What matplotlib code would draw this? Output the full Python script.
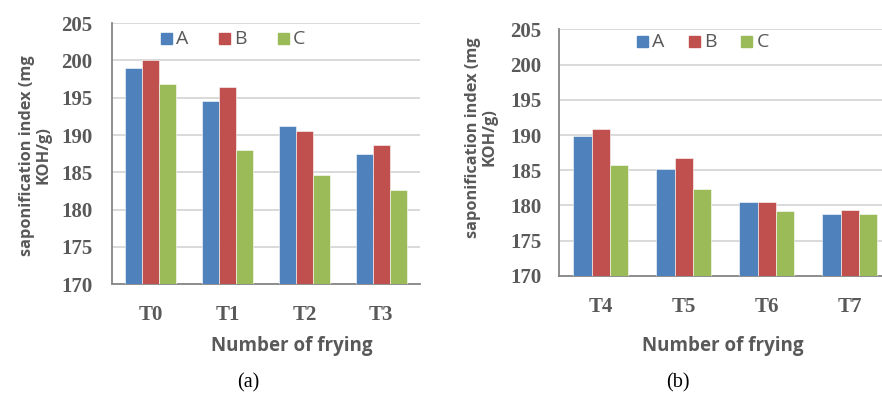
import numpy as np
import matplotlib.pyplot as plt

# saponification index per frying stage, three samples
groups_a = ["T0", "T1", "T2", "T3"]
a_A = [199.0, 194.5, 191.2, 187.5]
a_B = [200.0, 196.4, 190.5, 188.7]
a_C = [196.8, 188.0, 184.6, 182.6]

groups_b = ["T4", "T5", "T6", "T7"]
b_A = [189.9, 185.2, 180.5, 178.8]
b_B = [190.8, 186.7, 180.5, 179.4]
b_C = [185.7, 182.3, 179.2, 178.8]

series_names = ["A", "B", "C"]
colors = ["#4F81BD", "#C0504D", "#9BBB59"]
yticks = [170, 175, 180, 185, 190, 195, 200, 205]

gray = "#595959"
serif = "Liberation Serif"
sans = "Open Sans"

fig = plt.figure(figsize=(8.82, 3.93), dpi=100)
ax_a = fig.add_axes([0.127, 0.277, 0.349, 0.664])
ax_b = fig.add_axes([0.634, 0.298, 0.366, 0.627])


def draw(ax, cats, vals, xlim, xlab, ylab, leg, ypad):
    x = np.arange(len(cats))
    w = 0.22
    for i, (v, c) in enumerate(zip(vals, colors)):
        ax.bar(x + (i - 1) * w, np.array(v) - 170, w, bottom=170, color=c,
               edgecolor="white", linewidth=0.4, zorder=3)
    ax.set_ylim(170, 205)
    ax.set_xlim(*xlim)
    ax.set_yticks(yticks)
    ax.set_yticklabels([str(t) for t in yticks], fontfamily=serif,
                       fontweight="bold", fontsize=15, color=gray)
    ax.set_xticks(x)
    ax.set_xticklabels(cats, fontfamily=serif, fontweight="bold",
                       fontsize=15, color=gray)
    ax.tick_params(axis="both", length=0)
    ax.tick_params(axis="y", pad=ypad)
    ax.tick_params(axis="x", pad=15)
    ax.grid(axis="y", color="#d9d9d9", linewidth=1.4, zorder=0)
    for s in ["top", "right"]:
        ax.spines[s].set_visible(False)
    for s in ["left", "bottom"]:
        ax.spines[s].set_color("#868686")
        ax.spines[s].set_linewidth(1.3)
    ax.set_xlabel("Number of frying", fontfamily=sans, fontweight="bold",
                  fontsize=13.5, color=gray)
    ax.xaxis.set_label_coords(*xlab)
    ax.set_ylabel("saponification index (mg\nKOH/g)", fontfamily=sans,
                  fontweight="bold", fontsize=11.8, color=gray,
                  linespacing=1.05)
    ax.yaxis.set_label_coords(*ylab)
    # legend drawn as three swatches with labels along the top
    lx0, gap, sw, sh, ly = leg
    for i, (name, c) in enumerate(zip(series_names, colors)):
        lx = lx0 + i * gap
        ax.add_patch(plt.Rectangle((lx, ly - sh / 2), sw, sh,
                                   transform=ax.transAxes, color=c,
                                   clip_on=False, zorder=4))
        ax.text(lx + sw + 0.014, ly, name, transform=ax.transAxes,
                fontfamily=sans, fontsize=14, color=gray,
                va="center", ha="left")


draw(ax_a, groups_a, [a_A, a_B, a_C], (-0.5, 3.5), (0.584, -0.2),
     (-0.195, 0.494), (0.159, 0.19, 0.035, 0.042, 0.94), 14)
draw(ax_b, groups_b, [b_A, b_B, b_C], (-0.5, 3.39), (0.508, -0.243),
     (-0.19, 0.563), (0.241, 0.161, 0.034, 0.0445, 0.951), 13)

fig.text(248 / 882, 1 - 383 / 393, "(a)", fontfamily=serif, fontsize=14.5,
         ha="center", va="center", color="black")
fig.text(678 / 882, 1 - 383 / 393, "(b)", fontfamily=serif, fontsize=14.5,
         ha="center", va="center", color="black")

fig.savefig("out.png", dpi=100)
